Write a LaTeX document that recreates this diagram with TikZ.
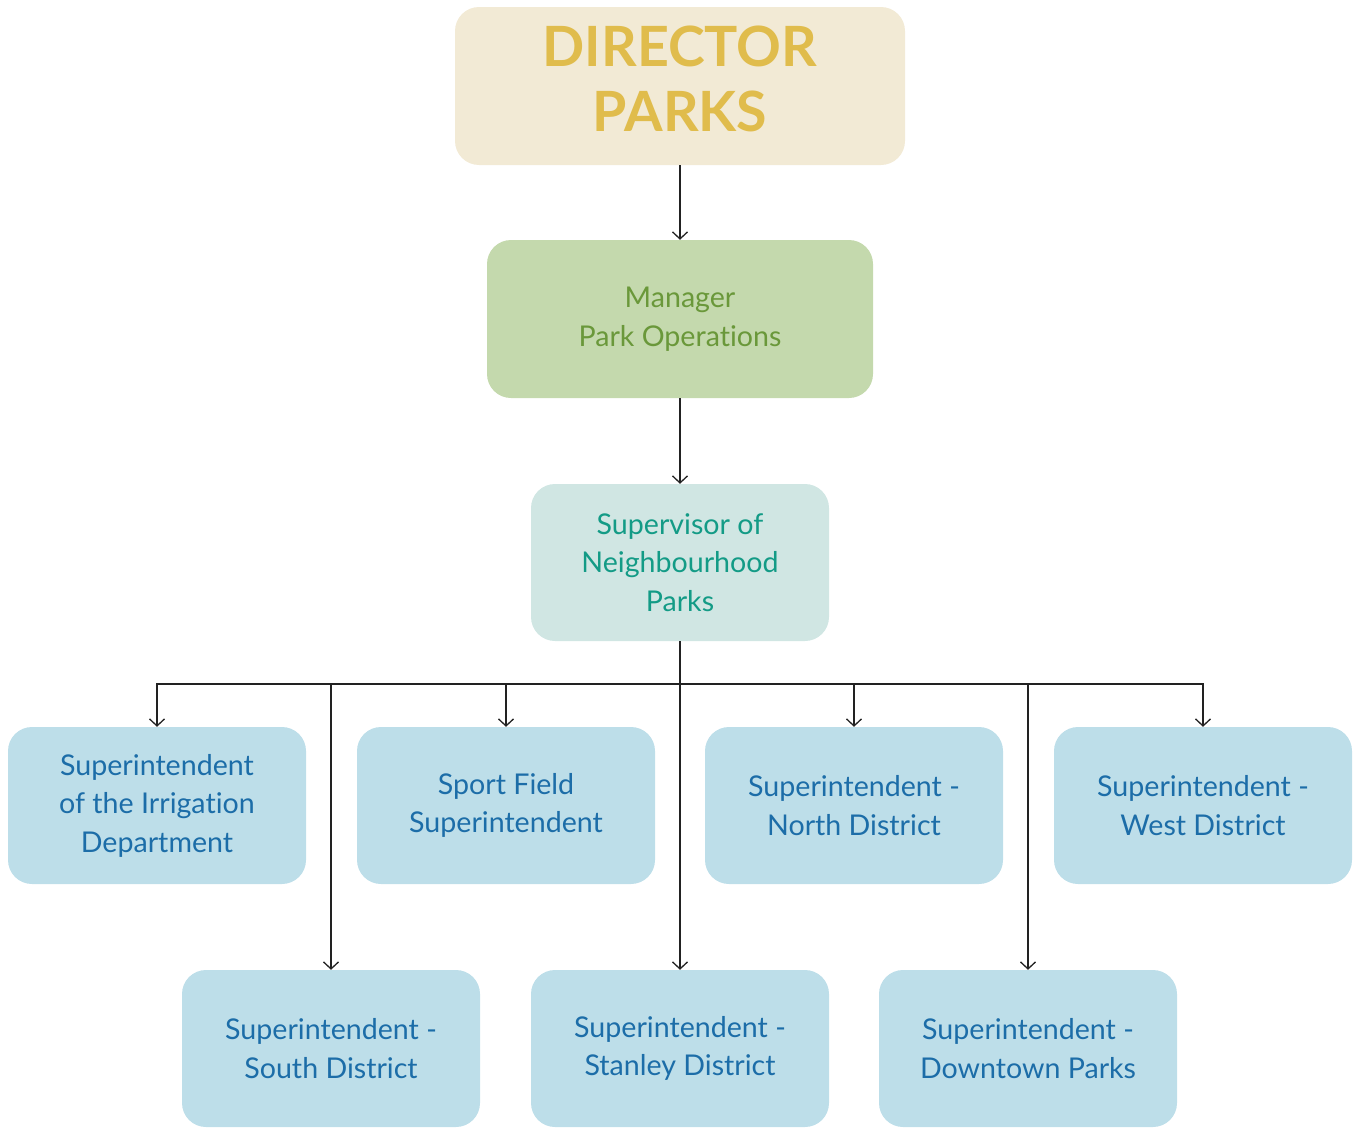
\documentclass[tikz,border=0pt]{standalone}
\usepackage{fontspec}
\setmainfont{Lato}[Ligatures={NoCommon}]
\usetikzlibrary{arrows.meta}
\definecolor{dirfill}{HTML}{F2EAD5}
\definecolor{dirtext}{HTML}{E0BC4C}
\definecolor{mgrfill}{HTML}{C4D9AD}
\definecolor{mgrtext}{HTML}{6A983A}
\definecolor{supfill}{HTML}{D0E6E3}
\definecolor{suptext}{HTML}{139B86}
\definecolor{bluefill}{HTML}{BDDEE9}
\definecolor{bluetext}{HTML}{1C6DA8}
\definecolor{linecol}{HTML}{222222}
\tikzset{
  box/.style={rectangle, rounded corners=24pt, inner sep=0pt, align=center, minimum width=298pt, minimum height=157pt},
  dirbox/.style={box, fill=dirfill, minimum width=450pt, minimum height=158pt},
  dirlabel/.style={inner sep=0pt, align=center, text=dirtext, font=\fontsize{55.5}{65}\selectfont\bfseries},
  mgrbox/.style={box, fill=mgrfill, text=mgrtext, minimum width=386pt, minimum height=158pt, font=\fontsize{28.6}{38.5}\selectfont},
  supbox/.style={box, fill=supfill, text=suptext, font=\fontsize{28.6}{38.5}\selectfont},
  subbox/.style={box, fill=bluefill, text=bluetext, font=\fontsize{28.6}{38.5}\selectfont},
  conn/.style={draw=linecol, line width=1.3pt},
  arr/.style={conn, -{Straight Barb[length=7pt,width=15pt,line width=1.3pt]}}
}
\begin{document}
\begin{tikzpicture}[x=1pt,y=-1pt]
\useasboundingbox (0,0) rectangle (1354,1127);
\node[dirbox] (dir) at (680,86) {};
\node[dirlabel] (dirtxt) at (680,79) {DIRECTOR\\PARKS};
\node[mgrbox] (mgr) at (680,319) {Manager\\Park Operations};
\node[supbox] (sup) at (680,562.5) {Supervisor of\\Neighbourhood\\Parks};
\node[subbox] (irr) at (157,805.5) {Superintendent\\of the Irrigation\\Department};
\node[subbox] (sport) at (506,805.5) {Sport Field\\Superintendent};
\node[subbox] (north) at (854,805.5) {Superintendent -\\North District};
\node[subbox] (west) at (1203,805.5) {Superintendent -\\West District};
\node[subbox] (south) at (331,1048.5) {Superintendent -\\South District};
\node[subbox] (stanley) at (680,1048.5) {Superintendent -\\Stanley District};
\node[subbox] (down) at (1028,1048.5) {Superintendent -\\Downtown Parks};
\coordinate (bus) at (680,684);
\draw[arr] (dir.south) -- (mgr.north);
\draw[arr] (mgr.south) -- (sup.north);
\draw[arr] (sup.south) -- (stanley.north);
\draw[arr] (bus) -| (irr.north);
\draw[arr] (bus) -| (sport.north);
\draw[arr] (bus) -| (north.north);
\draw[arr] (bus) -| (west.north);
\draw[arr] (bus) -| (south.north);
\draw[arr] (bus) -| (down.north);
\end{tikzpicture}
\end{document}
